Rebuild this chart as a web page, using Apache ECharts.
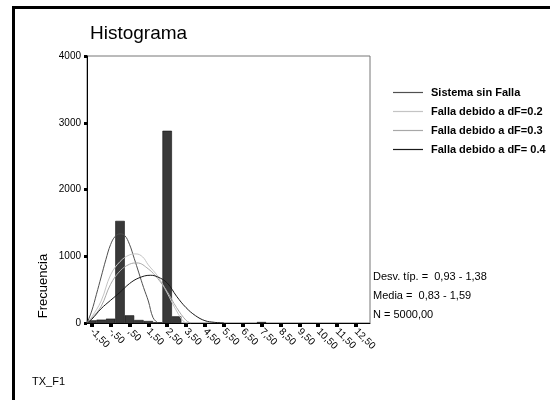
<!DOCTYPE html>
<html><head><meta charset="utf-8">
<script src="https://cdn.jsdelivr.net/npm/echarts@6/dist/echarts.min.js"></script>
<style>html,body{margin:0;padding:0;background:#fff}#c{width:550px;height:400px}</style>
</head><body><div id="c"></div>
<script>
// Histogram bins (bin centre, frequency)
const binCenters = [-1.5, -1.0, -0.5, 0.0, 0.5, 1.0, 1.5, 2.0, 2.5, 3.0, 7.5];
const binCounts  = [40, 50, 65, 1530, 115, 45, 30, 8, 2880, 100, 15];

// Curves: x values and frequencies
const sinFallaX = [-1.75, -1.5, -1.25, -1.0, -0.75, -0.5, -0.25, 0.0, 0.25, 0.5, 0.75, 1.0, 1.25, 1.5, 1.75, 2.0];
const sinFallaY = [0, 180, 430, 690, 950, 1175, 1300, 1335, 1310, 1180, 970, 750, 530, 330, 80, 0];
const df02X = [-1.75, -1.5, -1.0, -0.5, 0.0, 0.5, 0.85, 1.2, 1.5, 2.0, 2.5, 3.0, 3.4, 3.6];
const df02Y = [0, 90, 330, 720, 920, 1020, 1035, 990, 870, 700, 450, 180, 15, 0];
const df03X = [-1.75, -1.5, -1.0, -0.5, 0.0, 0.5, 0.9, 1.5, 2.0, 2.5, 3.0, 3.5, 3.75];
const df03Y = [0, 70, 250, 580, 780, 880, 900, 810, 665, 470, 230, 40, 0];
const df04X = [-1.75, -1.5, -1.0, -0.5, 0.0, 0.5, 1.0, 1.6, 2.0, 2.5, 3.0, 3.5, 4.0, 4.5, 5.0, 5.5];
const df04Y = [0, 55, 215, 340, 460, 590, 675, 715, 690, 600, 400, 230, 110, 35, 10, 0];

const seriesNames = ['Sistema sin Falla', 'Falla debido a dF=0.2', 'Falla debido a dF=0.3', 'Falla debido a dF= 0.4'];

// Axis ticks
const xTickValues = [-1.5, -0.5, 0.5, 1.5, 2.5, 3.5, 4.5, 5.5, 6.5, 7.5, 8.5, 9.5, 10.5, 11.5, 12.5];
const xTickLabels = ['-1,50', '-,50', ',50', '1,50', '2,50', '3,50', '4,50', '5,50', '6,50', '7,50', '8,50', '9,50', '10,50', '11,50', '12,50'];
const yTickLabels = ['0', '1000', '2000', '3000', '4000'];

const statLines = ['Desv. típ. =  0,93 - 1,38', 'Media =  0,83 - 1,59', 'N = 5000,00'];

function pairs(xs, ys) { return xs.map((x, i) => [x, ys[i]]); }

const FONT = 'Liberation Sans, Arial, sans-serif';
const chart = echarts.init(document.getElementById('c'), null, {renderer: 'canvas'});

const lineDefs = [
  {name: seriesNames[0], data: pairs(sinFallaX, sinFallaY), color: '#505050'},
  {name: seriesNames[1], data: pairs(df02X, df02Y), color: '#c4c4c4'},
  {name: seriesNames[2], data: pairs(df03X, df03Y), color: '#a8a8a8'},
  {name: seriesNames[3], data: pairs(df04X, df04Y), color: '#1a1a1a'}
];

chart.setOption({
  animation: false,
  backgroundColor: '#fff',
  title: {
    text: 'Histograma', left: 85, top: 19,
    textStyle: {fontFamily: FONT, fontSize: 19, fontWeight: 'normal', color: '#000'}
  },
  legend: {
    data: seriesNames,
    orient: 'vertical', left: 388, top: 81,
    icon: 'rect', itemWidth: 30, itemHeight: 1.2, itemGap: 6,
    textStyle: {fontFamily: FONT, fontSize: 11, fontWeight: 'bold', color: '#000', lineHeight: 13, padding: [0, 0, 0, 3]}
  },
  grid: {left: 87, right: 180, top: 56, bottom: 77, show: true, borderColor: '#777', borderWidth: 1, backgroundColor: 'transparent'},
  xAxis: {
    type: 'value', min: -1.75, max: 13.25,
    splitLine: {show: false},
    axisLine: {onZero: false, lineStyle: {color: '#000', width: 1}},
    axisTick: {show: true, customValues: xTickValues, length: 4, lineStyle: {color: '#000', width: 4}},
    axisLabel: {
      customValues: xTickValues, rotate: -45, margin: 7,
      fontFamily: FONT, fontSize: 10, color: '#000',
      formatter: v => { const i = xTickValues.findIndex(t => Math.abs(t - v) < 1e-6); return i >= 0 ? xTickLabels[i] : ''; }
    }
  },
  yAxis: {
    type: 'value', min: 0, max: 4000, interval: 1000,
    splitLine: {show: false},
    axisLine: {show: true, onZero: false, lineStyle: {color: '#000', width: 1}},
    axisTick: {show: true, length: 3, lineStyle: {color: '#000', width: 3}},
    axisLabel: {
      margin: 6, fontFamily: FONT, fontSize: 10, color: '#000',
      formatter: v => yTickLabels[Math.round(v / 1000)]
    }
  },
  series: [
    {
      type: 'bar', name: 'hist', barWidth: 9.5,
      data: pairs(binCenters, binCounts),
      itemStyle: {color: '#393939', borderColor: '#111', borderWidth: 0.6},
      z: 1
    }
  ].concat(lineDefs.map(d => ({
    type: 'line', name: d.name, data: d.data, smooth: 0.4, showSymbol: false,
    lineStyle: {color: d.color, width: 1}, itemStyle: {color: d.color}, z: 3
  }))),
  graphic: [
    {type: 'rect', shape: {x: 13.5, y: 7.5, width: 560, height: 420}, style: {fill: null, stroke: '#000', lineWidth: 3}, silent: true},
    {type: 'text', x: 43, y: 286, rotation: Math.PI / 2, style: {text: 'Frecuencia', fontFamily: FONT, fontSize: 13, fill: '#000', align: 'center', verticalAlign: 'middle'}},
    {type: 'text', x: 32, y: 376, style: {text: 'TX_F1', fontFamily: FONT, fontSize: 11, fill: '#000'}},
    {type: 'text', x: 373, y: 271, style: {text: statLines[0], fontFamily: FONT, fontSize: 11, fill: '#000'}},
    {type: 'text', x: 373, y: 290, style: {text: statLines[1], fontFamily: FONT, fontSize: 11, fill: '#000'}},
    {type: 'text', x: 373, y: 309, style: {text: statLines[2], fontFamily: FONT, fontSize: 11, fill: '#000'}}
  ]
});
</script></body></html>
